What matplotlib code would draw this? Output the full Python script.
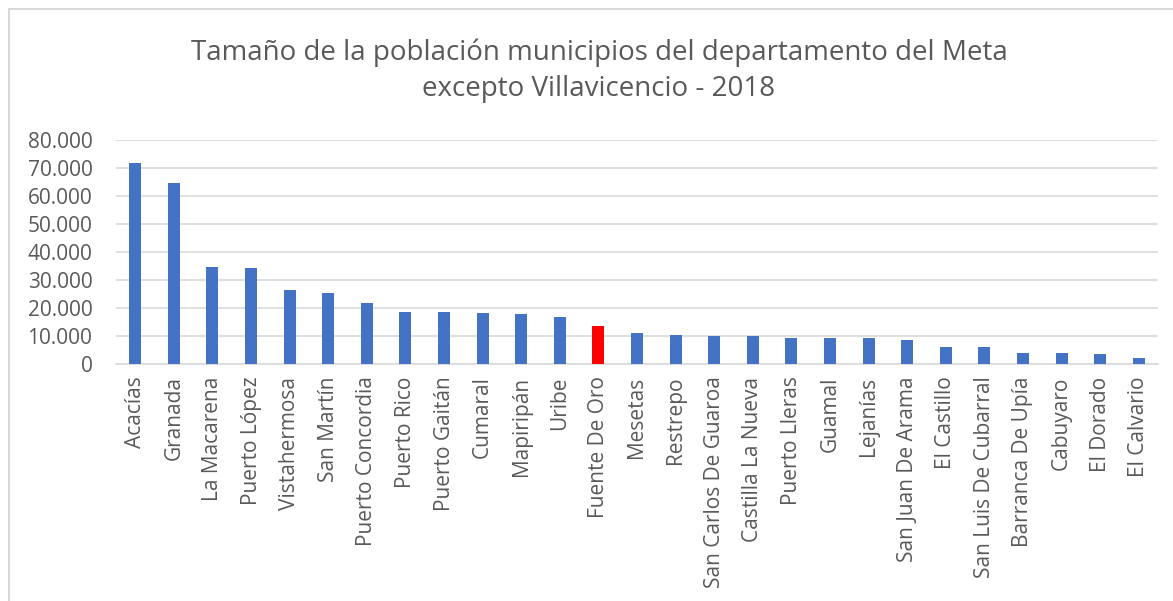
import matplotlib
matplotlib.use("Agg")
import matplotlib.pyplot as plt
from matplotlib.ticker import FuncFormatter
from matplotlib.patches import Rectangle

municipios = ["Acacías", "Granada", "La Macarena", "Puerto López", "Vistahermosa",
              "San Martín", "Puerto Concordia", "Puerto Rico", "Puerto Gaitán", "Cumaral",
              "Mapiripán", "Uribe", "Fuente De Oro", "Mesetas", "Restrepo",
              "San Carlos De Guaroa", "Castilla La Nueva", "Puerto Lleras", "Guamal",
              "Lejanías", "San Juan De Arama", "El Castillo", "San Luis De Cubarral",
              "Barranca De Upía", "Cabuyaro", "El Dorado", "El Calvario"]
poblacion = [71900, 64600, 34800, 34200, 26300, 25200, 21900, 18700, 18700, 18100,
             18000, 16800, 13500, 11200, 10500, 10100, 10000, 9400, 9300, 9200,
             8700, 6000, 5900, 3900, 3900, 3400, 2000]
destacado = "Fuente De Oro"
yticks = [0, 10000, 20000, 30000, 40000, 50000, 60000, 70000, 80000]
titulo_1 = "Tamaño de la población municipios del departamento del Meta"
titulo_2 = "excepto Villavicencio - 2018"

FONT = "Open Sans"
TXT = "#595959"
W, H = 1173, 601

fig = plt.figure(figsize=(W / 100, H / 100), dpi=100)
fig.patches.append(Rectangle((9 / W, -0.1), 1.2, 1 - 9 / H + 0.1, transform=fig.transFigure,
                             fill=False, edgecolor="#d9d9d9", linewidth=1.5, zorder=0))
ax = fig.add_axes([116 / W, 1 - 364 / H, (1158 - 116) / W, (364 - 140) / H])

colors = ["#FF0000" if m == destacado else "#4472C4" for m in municipios]
x = list(range(len(municipios)))
ax.bar(x, poblacion, width=0.31, color=colors, zorder=3)

ax.set_xlim(-0.5, len(municipios) - 0.5)
ax.set_ylim(0, 80000)
ax.set_yticks(yticks)
ax.yaxis.set_major_formatter(FuncFormatter(lambda v, p: f"{int(v):,}".replace(",", ".")))
ax.set_xticks(x)
ax.set_xticklabels(municipios, rotation=90, ha="center", va="top")
ax.grid(axis="y", color="#d9d9d9", linewidth=1.2, zorder=0)
for s in ["top", "right", "left"]:
    ax.spines[s].set_visible(False)
ax.spines["bottom"].set_color("#d9d9d9")
ax.spines["bottom"].set_linewidth(1.2)
ax.tick_params(axis="both", length=0, labelsize=15, labelcolor=TXT)
ax.tick_params(axis="y", pad=17)
ax.tick_params(axis="x", pad=9)
for lab in ax.get_xticklabels() + ax.get_yticklabels():
    lab.set_fontfamily(FONT)

fig.text(599 / W, 1 - 60 / H, titulo_1, ha="center", va="baseline", fontsize=20,
         color=TXT, family=FONT)
fig.text(599 / W, 1 - 96 / H, titulo_2, ha="center", va="baseline", fontsize=20,
         color=TXT, family=FONT)

fig.savefig("out.png", dpi=100)
